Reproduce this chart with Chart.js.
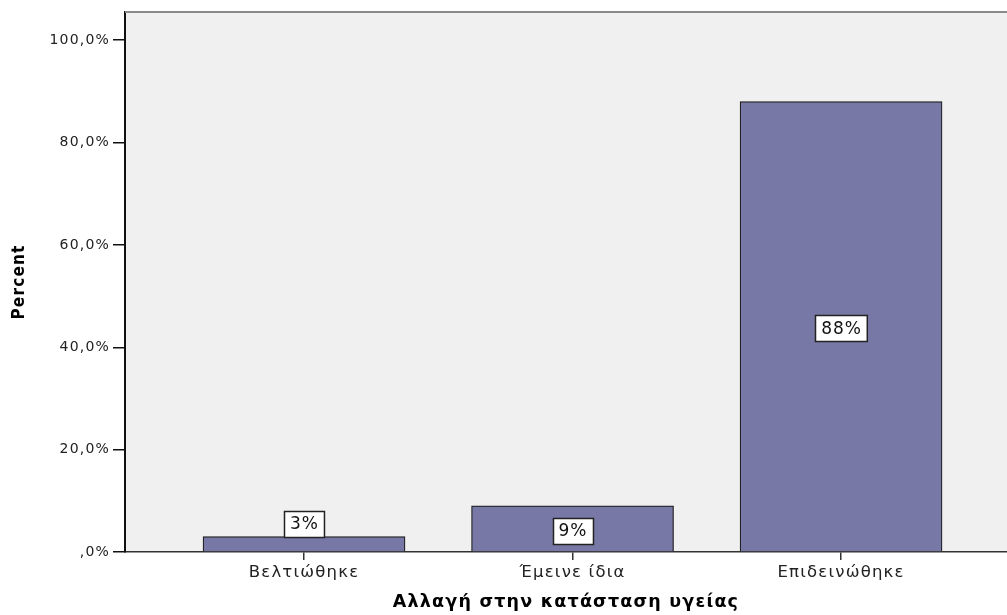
<!DOCTYPE html>
<html>
<head>
<meta charset="utf-8">
<title>Αλλαγή στην κατάσταση υγείας</title>
<script src="https://cdn.jsdelivr.net/npm/chart.js@4"></script>
<style>
  html, body { margin: 0; padding: 0; background: #ffffff; overflow: hidden; }
  #wrap { position: relative; width: 1007px; height: 615px; }
</style>
</head>
<body>
<div id="wrap"><canvas id="chart"></canvas></div>
<script>
// Health-status change, share of respondents (%)
const categories = ['Βελτιώθηκε', 'Έμεινε ίδια', 'Επιδεινώθηκε'];
const percents = [3, 9, 88];
const yTickValues = [0, 20, 40, 60, 80, 100];
const xAxisTitle = 'Αλλαγή στην κατάσταση υγείας';
const yAxisTitle = 'Percent';

// SPSS-style percent labels: ",0%" for zero, comma decimal separator
function formatPercent(v) {
  if (v === 0) return ',0%';
  return v.toFixed(1).replace('.', ',') + '%';
}

// Grey plot background, wide text tracking and the thin top frame line
const plotFrame = {
  id: 'plotFrame',
  beforeDraw(chart) {
    const { ctx, chartArea: a } = chart;
    ctx.letterSpacing = '1.2px';
    ctx.save();
    ctx.fillStyle = '#f0f0f0';
    ctx.fillRect(a.left, a.top, a.right - a.left, a.bottom - a.top);
    ctx.restore();
  },
  afterDraw(chart) {
    const { ctx, chartArea: a } = chart;
    ctx.save();
    ctx.strokeStyle = '#8a8a8a';
    ctx.lineWidth = 2;
    ctx.beginPath();
    ctx.moveTo(a.left, a.top);
    ctx.lineTo(a.right, a.top);
    ctx.stroke();
    ctx.restore();
  }
};

// Boxed value labels: inside the bar when it is tall enough, otherwise sitting on top
const boxedLabels = {
  id: 'boxedLabels',
  afterDatasetsDraw(chart) {
    const { ctx } = chart;
    const meta = chart.getDatasetMeta(0);
    meta.data.forEach((bar, i) => {
      const text = percents[i] + '%';
      ctx.save();
      ctx.font = '17px "DejaVu Sans", sans-serif';
      ctx.letterSpacing = '1px';
      const w = ctx.measureText(text).width + 11;
      const h = 26;
      const barH = bar.base - bar.y;
      const cy = barH > h + 8 ? (bar.y + bar.base) / 2 + 2 : bar.y - h / 2;
      const x0 = Math.round(bar.x - w / 2) + 0.5;
      const y0 = Math.round(cy - h / 2) + 0.5;
      ctx.fillStyle = '#ffffff';
      ctx.fillRect(x0, y0, w, h);
      ctx.strokeStyle = '#222222';
      ctx.lineWidth = 1.5;
      ctx.strokeRect(x0, y0, w, h);
      ctx.fillStyle = '#111111';
      ctx.textAlign = 'center';
      ctx.textBaseline = 'middle';
      ctx.fillText(text, bar.x + 0.5, cy + 1);
      ctx.restore();
    });
  }
};

const ctx = document.getElementById('chart').getContext('2d');
new Chart(ctx, {
  type: 'bar',
  data: {
    datasets: [{
      data: percents.map((v, i) => ({ x: i, y: v })),
      backgroundColor: '#7878a6',
      borderColor: '#1a1a1a',
      borderWidth: 1.2,
      barThickness: 202
    }]
  },
  options: {
    responsive: true,
    maintainAspectRatio: false,
    animation: false,
    devicePixelRatio: 1,
    layout: { padding: { top: 12, left: 0, right: 0, bottom: 0 } },
    plugins: {
      legend: { display: false },
      tooltip: { enabled: false }
    },
    scales: {
      x: {
        type: 'linear',
        offset: false,
        min: -0.6667,
        max: 2.618,
        afterBuildTicks(scale) {
          scale.ticks = categories.map((_, i) => ({ value: i }));
        },
        afterFit(scale) { scale.height = 63; },
        grid: {
          offset: false,
          drawOnChartArea: false,
          drawTicks: true,
          tickLength: 8,
          color: '#333333',
          lineWidth: 1.5
        },
        border: { display: true, color: '#333333', width: 1.5 },
        ticks: {
          callback: (v) => categories[v] ?? '',
          font: { family: '"DejaVu Sans", sans-serif', size: 16.5 },
          color: '#222222',
          padding: 3,
          maxRotation: 0,
          autoSkip: false
        },
        title: {
          display: true,
          text: xAxisTitle,
          font: { family: '"DejaVu Sans", sans-serif', weight: 'bold', size: 17.5 },
          color: '#000000',
          padding: { top: 0, bottom: 2 }
        }
      },
      y: {
        min: 0,
        max: 105.5,
        afterBuildTicks(scale) {
          scale.ticks = yTickValues.map(v => ({ value: v }));
        },
        afterFit(scale) { scale.width = 125; },
        grid: {
          drawOnChartArea: false,
          drawTicks: true,
          tickLength: 12,
          color: '#111111',
          lineWidth: 1.5
        },
        border: { display: true, color: '#111111', width: 2 },
        ticks: {
          callback: (v) => formatPercent(v),
          font: { family: '"DejaVu Sans", sans-serif', size: 14 },
          color: '#222222',
          padding: 3
        },
        title: {
          display: true,
          text: yAxisTitle,
          font: { family: '"DejaVu Sans Condensed", "Liberation Sans Narrow", sans-serif', weight: 'bold', size: 17 },
          color: '#000000',
          padding: { top: 9, bottom: 0 }
        }
      }
    }
  },
  plugins: [plotFrame, boxedLabels]
});
</script>
</body>
</html>
